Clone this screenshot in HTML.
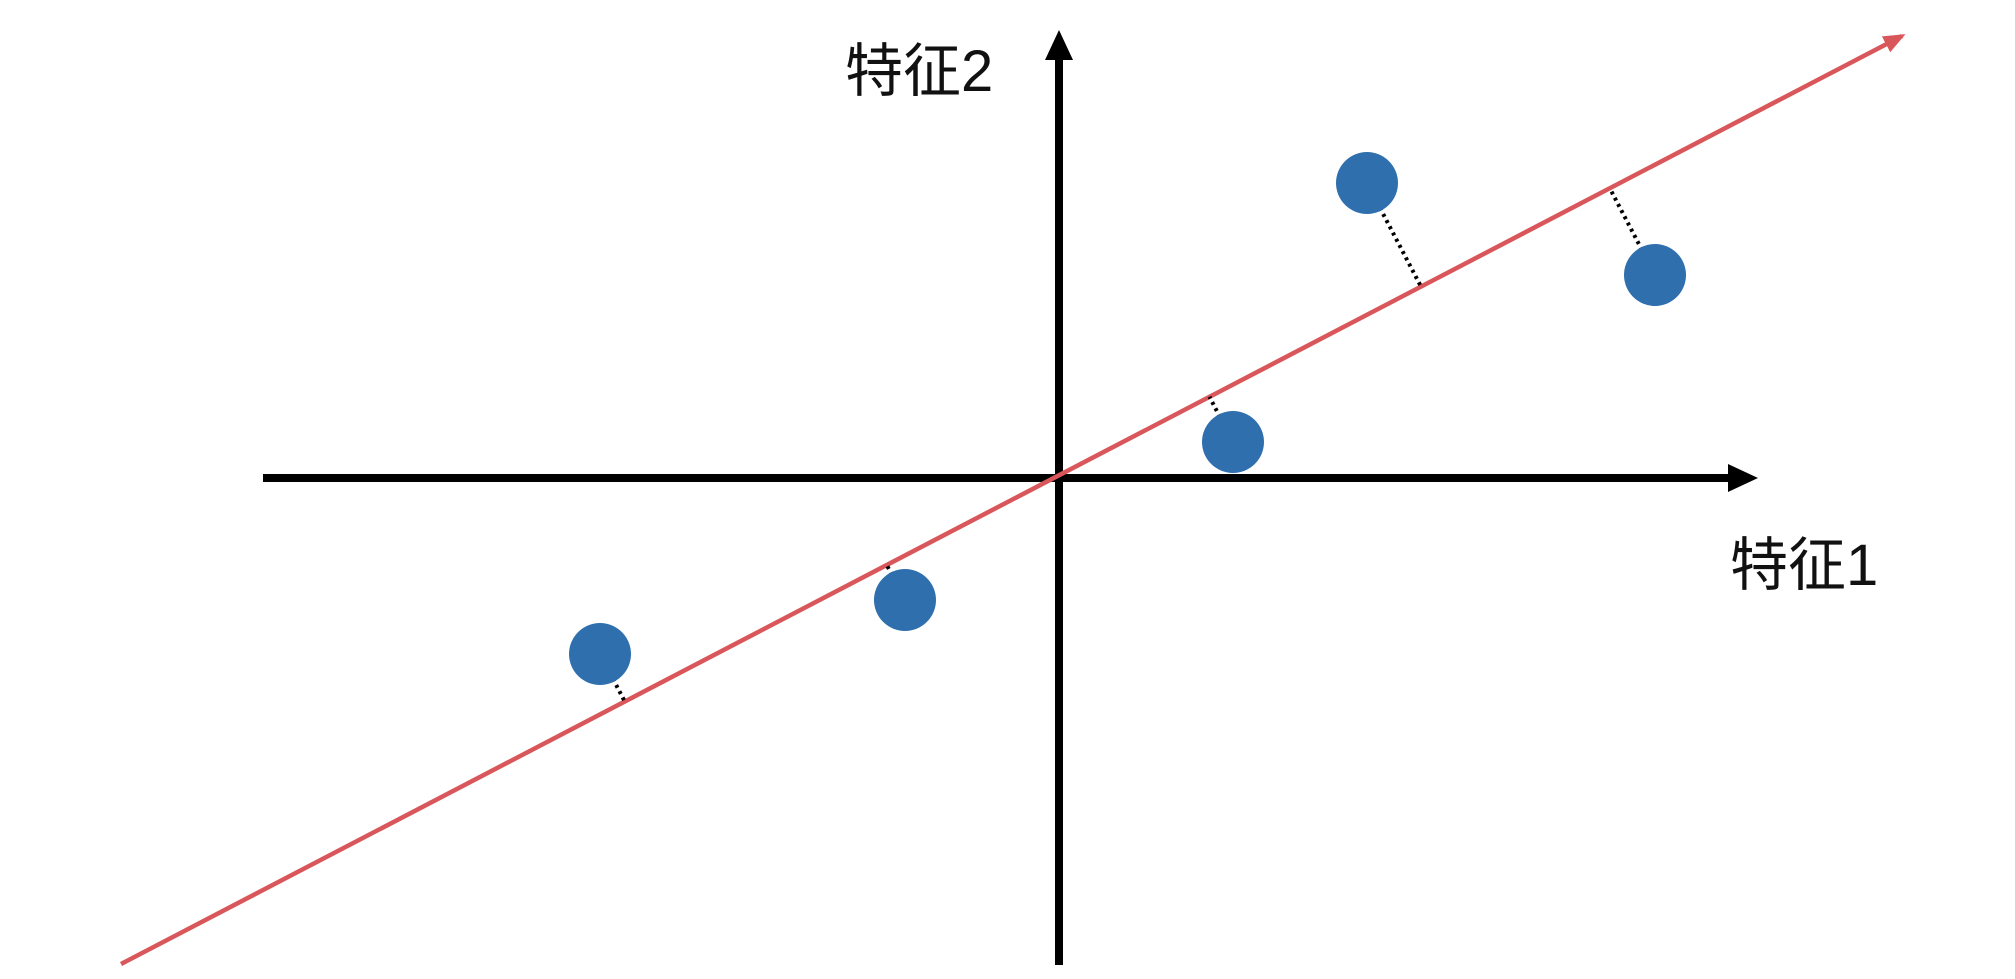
<!DOCTYPE html>
<html><head><meta charset="utf-8"><style>
html,body{margin:0;padding:0;background:#fff;}
svg{display:block;}
text{font-family:"Liberation Sans","Noto Sans CJK SC",sans-serif;}
</style></head><body>
<svg id="chart" width="2015" height="979" viewBox="0 0 2015 979" xmlns="http://www.w3.org/2000/svg">
<defs>
<marker id="rh" markerWidth="22" markerHeight="18" refX="18" refY="9" orient="auto" markerUnits="userSpaceOnUse"><path d="M0,0 L22,9 L0,18 z" fill="#d9575b"/></marker>
</defs>
<g id="axes"></g>
<g id="marks"></g>
<text x="845" y="91" font-size="58" fill="#111">特征2</text>
<text x="1730" y="585" font-size="58" fill="#111">特征1</text>
</svg>
<script>
const pointX = [-4.59, -1.54, 1.74, 3.08, 5.96];
const pointY = [-1.76, -1.22, 0.36, 2.95, 2.03];
const lineStart = [-9.38, -4.86];
const lineEnd = [8.43, 4.42];
const xRange = [-7.96, 6.99];
const yRange = [-4.87, 4.48];

const ox = 1059, oy = 478, unit = 100;
const sx = v => ox + v * unit;
const sy = v => oy - v * unit;
const NS = 'http://www.w3.org/2000/svg';
function mk(tag, attrs, parent) {
  const e = document.createElementNS(NS, tag);
  for (const k in attrs) e.setAttribute(k, attrs[k]);
  parent.appendChild(e);
  return e;
}
const axes = document.getElementById('axes');
const marks = document.getElementById('marks');

const xa = mk('line', {x1: sx(xRange[0]), y1: sy(0), x2: sx(xRange[1]) - 20, y2: sy(0), stroke: '#000', 'stroke-width': 8}, axes);


const xh = mk('path', {d: `M${sx(xRange[1])-30},${sy(0)-14} L${sx(xRange[1])},${sy(0)} L${sx(xRange[1])-30},${sy(0)+14} z`, fill: '#000'}, axes);


const ya = mk('line', {x1: sx(0), y1: sy(yRange[0]), x2: sx(0), y2: sy(yRange[1]) + 20, stroke: '#000', 'stroke-width': 8}, axes);


const yh = mk('path', {d: `M${sx(0)-14},${sy(yRange[1])+30} L${sx(0)},${sy(yRange[1])} L${sx(0)+14},${sy(yRange[1])+30} z`, fill: '#000'}, axes);



const dx = lineEnd[0] - lineStart[0], dy = lineEnd[1] - lineStart[1];
const len = Math.hypot(dx, dy), ux = dx / len, uy = dy / len;
const pl = mk('line', {x1: sx(lineStart[0]), y1: sy(lineStart[1]), x2: sx(lineEnd[0]), y2: sy(lineEnd[1]), stroke: '#d9575b', 'stroke-width': 4.5, 'marker-end': 'url(#rh)'}, marks);



for (let i = 0; i < pointX.length; i++) {
  const px = pointX[i] - lineStart[0], py = pointY[i] - lineStart[1];
  const t = px * ux + py * uy;
  const qx = lineStart[0] + t * ux, qy = lineStart[1] + t * uy;
  const pr = mk('line', {x1: sx(pointX[i]), y1: sy(pointY[i]), x2: sx(qx), y2: sy(qy), stroke: '#000', 'stroke-width': 4, 'stroke-dasharray': '3 4'}, marks);
  
  
}
for (let i = 0; i < pointX.length; i++) {
  const c = mk('circle', {cx: sx(pointX[i]), cy: sy(pointY[i]), r: 31, fill: '#2f6fae'}, marks);
  
  
}
</script>
</body></html>
